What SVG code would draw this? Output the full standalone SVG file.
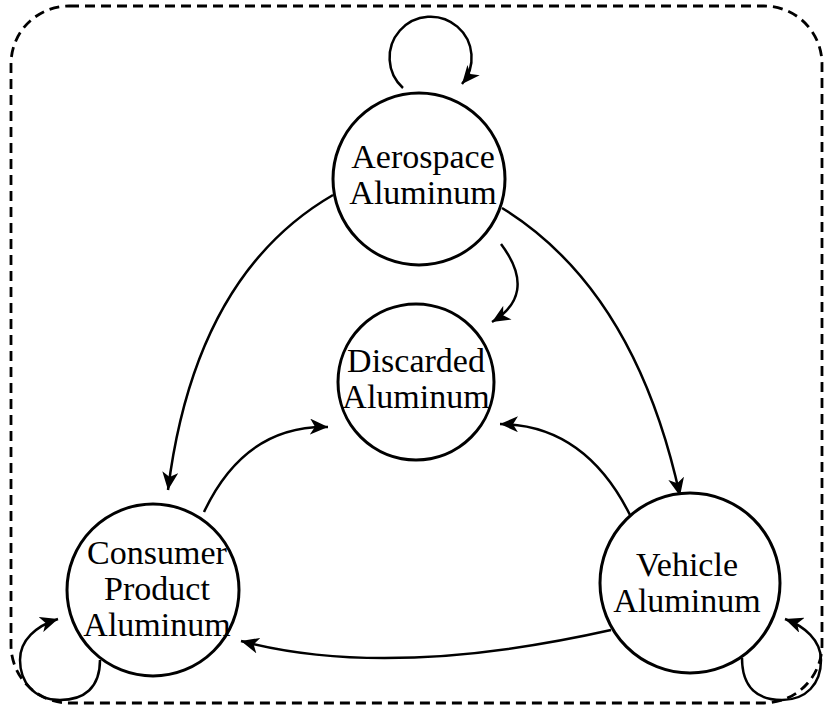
<svg xmlns="http://www.w3.org/2000/svg" width="829" height="711" viewBox="0 0 829 711">
<style>
.node circle{fill:#fff;stroke:#000;stroke-width:3}
.node text{font-family:"Liberation Serif","Times New Roman",serif;font-size:34px;text-anchor:middle;fill:#000}
.edge{fill:none;stroke:#000;stroke-width:2.5;marker-end:url(#arr)}
</style>
<defs>
<marker id="arr" markerUnits="userSpaceOnUse" markerWidth="20" markerHeight="16" viewBox="0 0 20 16" refX="18" refY="8" orient="auto">
<path d="M0,0 L18,8 L0,16 L5,8 Z" fill="#000"/>
</marker>
</defs>
<rect x="11" y="6" width="811" height="697" rx="58" ry="58" fill="none" stroke="#000" stroke-width="2.8" stroke-dasharray="10,6"/>
<g id="connectors">
<path class="edge" d="M403,88 A41,41 0 1 1 462,84"/>
<path class="edge" d="M100,660 C100,688 84,700 60,700 C34,700 20,682 20,660 C20,640 36,626 58,619"/>
<path class="edge" d="M742,658 C742,688 758,700 782,700 C806,700 821,684 821,660 C821,640 804,626 785,619"/>
<path class="edge" d="M333,195 Q195,275 168,490"/>
<path class="edge" d="M502,208 Q635,290 680,496"/>
<path class="edge" d="M501,244 C528,280 520,305 492,322"/>
<path class="edge" d="M204,512 Q245,425 328,427"/>
<path class="edge" d="M630,515 Q585,425 500,424"/>
<path class="edge" d="M611,630 Q388,680 241,641"/>
</g>
<g id="aerospace" class="node"><circle cx="419" cy="179" r="86"/><text x="423" y="168">Aerospace</text><text x="423" y="204">Aluminum</text></g>
<g id="discarded" class="node"><circle cx="416" cy="382" r="78"/><text x="416" y="372">Discarded</text><text x="416" y="408">Aluminum</text></g>
<g id="consumer" class="node"><circle cx="153" cy="590" r="86"/><text x="157" y="564">Consumer</text><text x="157" y="600">Product</text><text x="157" y="636">Aluminum</text></g>
<g id="vehicle" class="node"><circle cx="690" cy="583" r="90"/><text x="687" y="576">Vehicle</text><text x="687" y="612">Aluminum</text></g>
</svg>
